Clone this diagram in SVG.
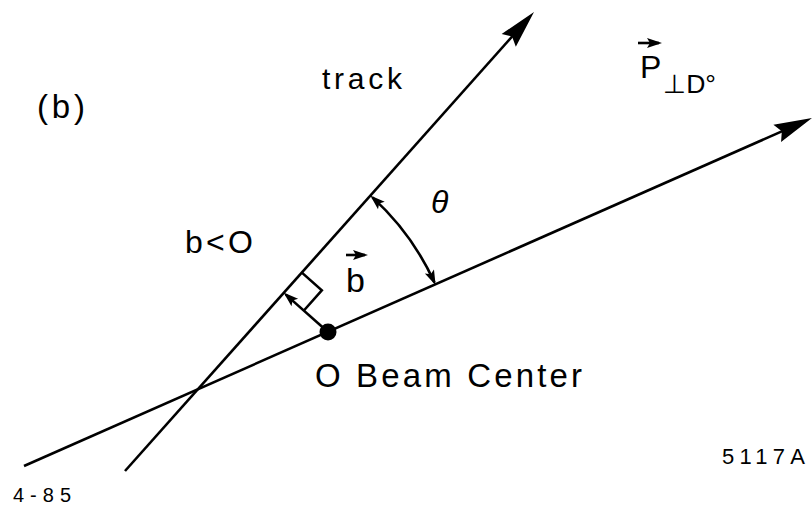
<svg xmlns="http://www.w3.org/2000/svg" width="812" height="508" viewBox="0 0 812 508">
<style>
.ln{fill:none;stroke:#000;stroke-width:2.6;stroke-linecap:butt}
.t{font-family:"Liberation Sans","DejaVu Sans",sans-serif;fill:#000}
</style>
<defs>
<marker id="big" markerUnits="userSpaceOnUse" markerWidth="44" markerHeight="26" viewBox="-22 -13 44 26" refX="0" refY="0" orient="auto">
<path d="M20,0 L-18,-9.5 L-13,0 L-18,9.5 Z" fill="#000"/>
</marker>
<marker id="small" markerUnits="userSpaceOnUse" markerWidth="20" markerHeight="14" viewBox="-14 -7 20 14" refX="0" refY="0" orient="auto-start-reverse">
<path d="M3,0 L-12,-5 L-9,0 L-12,5 Z" fill="#000"/>
</marker>
</defs>
<rect width="812" height="508" fill="#fff"/>
<g id="connectors">
<line id="track" class="ln" x1="125" y1="471" x2="520.7" y2="26.9" marker-end="url(#big)"/>
<line id="beam" class="ln" x1="24" y1="466" x2="793.7" y2="126.1" marker-end="url(#big)"/>
<path id="theta-arc" class="ln" d="M434.4,282.4 A262,262 0 0 0 372.5,197.4" marker-start="url(#small)" marker-end="url(#small)"/>
<line id="b-vector" class="ln" x1="328" y1="332" x2="285.8" y2="294.6" marker-end="url(#small)"/>
<path id="right-angle" class="ln" d="M301.6,272.4 L321.8,290.3 L303.9,310.5"/>
</g>
<g id="beam-center">
<circle cx="328" cy="332" r="8.5" fill="#000"/>
<text class="t" x="315" y="387" font-size="33" textLength="267" lengthAdjust="spacing">O Beam Center</text>
</g>
<g id="label-b-panel"><text class="t" x="37" y="118" font-size="33" textLength="48" lengthAdjust="spacing">(b)</text></g>
<g id="label-track"><text class="t" x="322" y="89" font-size="30" textLength="80" lengthAdjust="spacing">track</text></g>
<g id="label-bneg"><text class="t" x="185" y="253" font-size="32" textLength="68" lengthAdjust="spacing">b&lt;O</text></g>
<g id="label-theta"><text class="t" x="431" y="213" font-size="32" font-style="italic">θ</text></g>
<g id="label-bvec">
<text class="t" x="346" y="292" font-size="34">b</text>
<line class="ln" x1="346" y1="255" x2="365" y2="255" stroke-width="2" marker-end="url(#small)"/>
</g>
<g id="label-pvec">
<text class="t" x="640" y="78" font-size="32">P</text>
<line class="ln" x1="638" y1="43" x2="659" y2="43" stroke-width="2" marker-end="url(#small)"/>
<text class="t" x="663" y="93" font-size="26" textLength="53" lengthAdjust="spacingAndGlyphs">⊥D°</text>
</g>
<g id="label-id"><text class="t" x="722" y="464" font-size="22" textLength="83" lengthAdjust="spacing">5117A</text></g>
<g id="label-date"><text class="t" x="13" y="502" font-size="20" textLength="58" lengthAdjust="spacing">4-85</text></g>
</svg>
